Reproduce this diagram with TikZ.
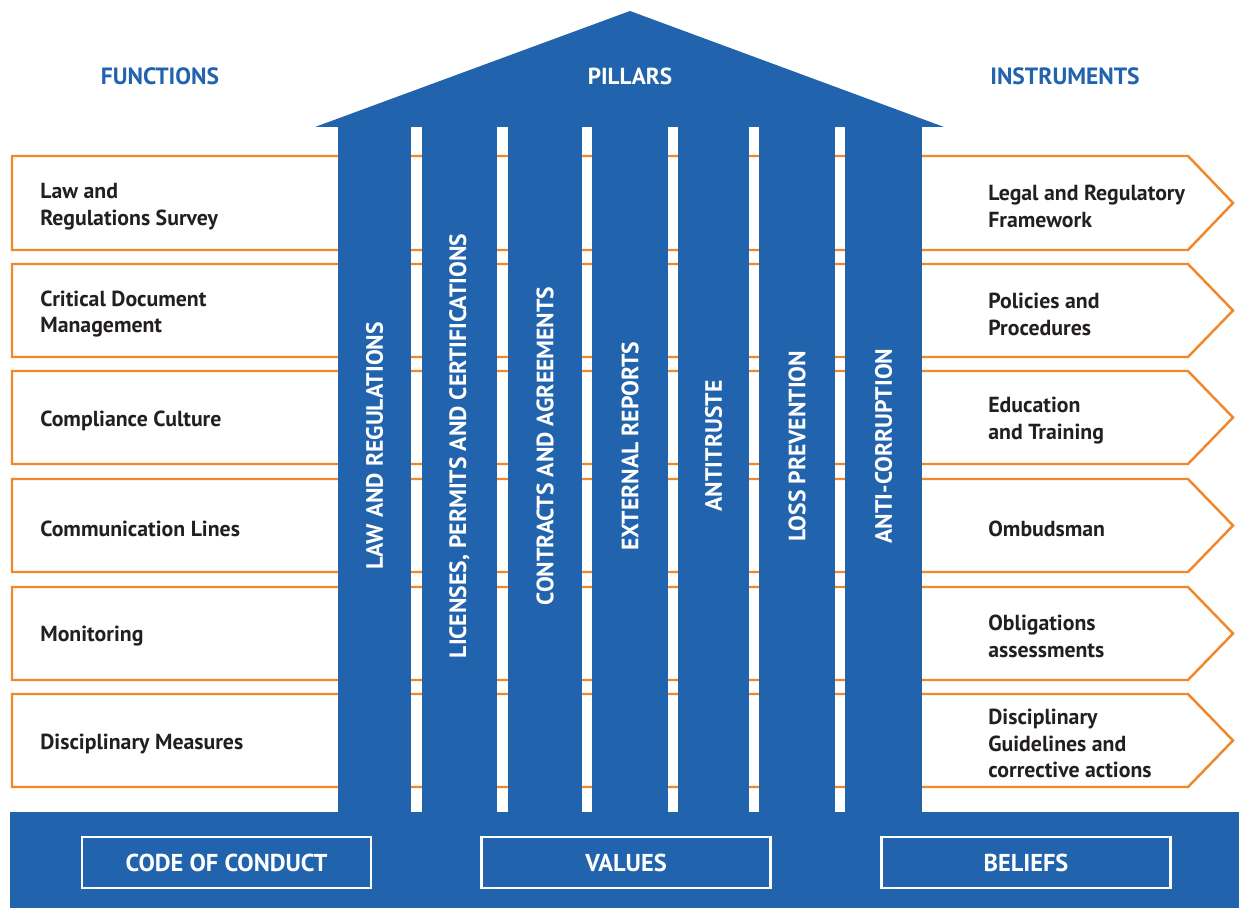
\documentclass[tikz,border=0pt]{standalone}
\usepackage{fontspec}
\setmainfont{PT Sans}
\usepackage{tikz}
\usetikzlibrary{calc}
\pgfdeclarelayer{bg}
\pgfsetlayers{bg,main}
\definecolor{pillarblue}{HTML}{2163AD}
\definecolor{roworange}{HTML}{F1862A}
\definecolor{darktext}{HTML}{231F20}
\tikzset{
  rowbox/.style={draw=roworange, line width=1.4pt, fill=white},
  rowtext/.style={anchor=west, align=left, inner sep=0pt, text=darktext, font=\bfseries\fontsize{12.4}{15.3}\selectfont},
  headtext/.style={text=pillarblue, font=\bfseries\fontsize{13.4}{15}\selectfont},
  pillartext/.style={rotate=90, text=white, font=\bfseries\fontsize{13.45}{15}\selectfont},
  basebox/.style={draw=white, line width=1.2pt, text=white, minimum width=289*0.02cm, minimum height=51*0.02cm, font=\bfseries\fontsize{13.9}{15}\selectfont}
}
\begin{document}
\begin{tikzpicture}[x=0.02cm, y=-0.02cm]
    \useasboundingbox (0,0) rectangle (1239,908);

    % rows behind the pillars
    \begin{pgfonlayer}{bg}
        \draw [rowbox] (12,156) -- (1188,156) -- (1233,203) -- (1188,250) -- (12,250) -- cycle;
        \draw [rowbox] (12,264) -- (1188,264) -- (1233,310.5) -- (1188,357) -- (12,357) -- cycle;
        \draw [rowbox] (12,371) -- (1188,371) -- (1233,417.5) -- (1188,464) -- (12,464) -- cycle;
        \draw [rowbox] (12,479) -- (1188,479) -- (1233,525.5) -- (1188,572) -- (12,572) -- cycle;
        \draw [rowbox] (12,587) -- (1188,587) -- (1233,633.5) -- (1188,680) -- (12,680) -- cycle;
        \draw [rowbox] (12,694) -- (1188,694) -- (1233,740.5) -- (1188,787) -- (12,787) -- cycle;
    \end{pgfonlayer}

    \node [headtext] (functions) at (160,76) {FUNCTIONS};
    \node [headtext] (instruments) at (1065,76) {INSTRUMENTS};

    \node [rowtext] (survey) at (40,206.5) {Law and\\Regulations Survey};
    \node [rowtext] (documents) at (40,314) {Critical Document\\Management};
    \node [rowtext] (culture) at (40,420.5) {Compliance Culture};
    \node [rowtext] (lines) at (40,528.5) {Communication Lines};
    \node [rowtext] (monitoring) at (40,636.5) {Monitoring};
    \node [rowtext] (measures) at (40,743.5) {Disciplinary Measures};

    \node [rowtext] (framework) at (988,206.5) {Legal and Regulatory\\Framework};
    \node [rowtext] (policies) at (988,314) {Policies and\\Procedures};
    \node [rowtext] (training) at (988,420.5) {Education\\and Training};
    \node [rowtext] (ombudsman) at (988,528.5) {Ombudsman};
    \node [rowtext] (obligations) at (988,636.5) {Obligations\\assessments};
    \node [rowtext] (guidelines) at (988,743.5) {Disciplinary\\Guidelines and\\corrective actions};

    % roof and pillars
    \fill [pillarblue] (315,127) -- (630,11) -- (944,127) -- cycle;
    \fill [pillarblue] (338,126) rectangle (411,813);
    \fill [pillarblue] (422,126) rectangle (497,813);
    \fill [pillarblue] (508,126) rectangle (582,813);
    \fill [pillarblue] (592,126) rectangle (668,813);
    \fill [pillarblue] (678,126) rectangle (749,813);
    \fill [pillarblue] (759,126) rectangle (835,813);
    \fill [pillarblue] (845,126) rectangle (922,813);
    \node [text=white, font=\bfseries\fontsize{13.2}{15}\selectfont] (pillars) at (630,76) {PILLARS};

    \node [pillartext] (law) at (374.5,446) {LAW AND REGULATIONS};
    \node [pillartext] (licenses) at (459.5,446) {LICENSES, PERMITS AND CERTIFICATIONS};
    \node [pillartext] (contracts) at (545,446) {CONTRACTS AND AGREEMENTS};
    \node [pillartext] (reports) at (630,446) {EXTERNAL REPORTS};
    \node [pillartext] (antitrust) at (713.5,446) {ANTITRUSTE};
    \node [pillartext] (loss) at (797,446) {LOSS PREVENTION};
    \node [pillartext] (corruption) at (883.5,446) {ANTI-CORRUPTION};

    % foundation
    \fill [pillarblue] (10,812) rectangle (1239,908);
    \node [basebox] (conduct) at (226.5,862.5) {CODE OF CONDUCT};
    \node [basebox] (values) at (626,862.5) {VALUES};
    \node [basebox] (beliefs) at (1026,862.5) {BELIEFS};
\end{tikzpicture}
\end{document}
